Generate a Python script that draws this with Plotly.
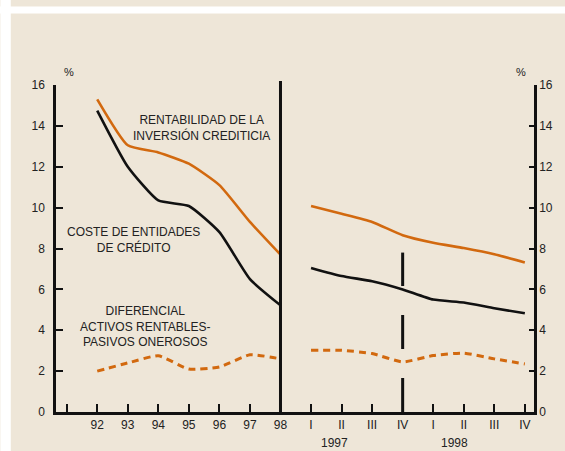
import plotly.graph_objects as go

# ---- data ----
annual_labels = ["92", "93", "94", "95", "96", "97", "98"]
quarter_labels = ["I", "II", "III", "IV", "I", "II", "III", "IV"]

rent_annual = [15.3, 13.05, 12.7, 12.15, 11.1, 9.3, 7.7]
coste_annual = [14.75, 12.0, 10.35, 10.08, 8.8, 6.5, 5.22]
dif_annual = [2.0, 2.4, 2.75, 2.1, 2.2, 2.8, 2.6]

rent_q = [10.08, 9.7, 9.3, 8.65, 8.28, 8.02, 7.72, 7.32]
coste_q = [7.05, 6.65, 6.4, 6.0, 5.5, 5.36, 5.08, 4.83]
dif_q = [3.02, 3.02, 2.86, 2.45, 2.76, 2.88, 2.6, 2.35]

# positions on a single linear axis: 91 -> 0 (unlabelled tick), 92..98 -> 1..7, quarters -> 8..15
x_annual = list(range(1, 8))
x_q = list(range(8, 16))
tick_vals = list(range(0, 16))
tick_text = [""] + annual_labels + quarter_labels

ORANGE = "#D2690F"
BLACK = "#111111"
BG = "#EEE6D8"
FONT = "Liberation Sans, Arial, sans-serif"

fig = go.Figure()

for xs, ys in ((x_annual, rent_annual), (x_q, rent_q)):
    fig.add_trace(go.Scatter(x=xs, y=ys, mode="lines",
                             line=dict(color=ORANGE, width=2.6, shape="spline", smoothing=0.5),
                             hoverinfo="skip", showlegend=False))
for xs, ys in ((x_annual, coste_annual), (x_q, coste_q)):
    fig.add_trace(go.Scatter(x=xs, y=ys, mode="lines",
                             line=dict(color=BLACK, width=2.6, shape="spline", smoothing=0.5),
                             hoverinfo="skip", showlegend=False))
for xs, ys in ((x_annual, dif_annual), (x_q, dif_q)):
    fig.add_trace(go.Scatter(x=xs, y=ys, mode="lines",
                             line=dict(color=ORANGE, width=3, dash="7px,5px", shape="spline", smoothing=0.5),
                             hoverinfo="skip", showlegend=False))

# invisible trace to anchor right axis
fig.add_trace(go.Scatter(x=[0], y=[0], yaxis="y2", mode="markers",
                         marker=dict(opacity=0), hoverinfo="skip", showlegend=False))

fig.update_layout(
    width=565, height=451,
    margin=dict(l=56, r=28, t=85, b=39),
    paper_bgcolor=BG, plot_bgcolor="rgba(0,0,0,0)",
    font=dict(family=FONT, size=12, color="#222222"),
    xaxis=dict(range=[-0.35, 15.3], tickvals=tick_vals, ticktext=tick_text,
               ticks="inside", ticklen=8, tickwidth=2, tickcolor=BLACK,
               showline=True, linecolor=BLACK, linewidth=2.5,
               showgrid=False, zeroline=False, fixedrange=True,
               tickfont=dict(size=12, color="#222222")),
    yaxis=dict(range=[0, 16], tickvals=list(range(0, 17, 2)),
               ticks="inside", ticklen=7, tickwidth=2, tickcolor=BLACK,
               showline=True, linecolor=BLACK, linewidth=2.5,
               showgrid=False, zeroline=False, fixedrange=True,
               ticklabelstandoff=6,
               tickfont=dict(size=12, color="#222222")),
    yaxis2=dict(range=[0, 16], tickvals=list(range(0, 17, 2)), overlaying="y", side="right",
                ticks="inside", ticklen=5, tickwidth=2, tickcolor=BLACK,
                showline=True, linecolor=BLACK, linewidth=2.5,
                showgrid=False, zeroline=False, fixedrange=True,
                tickfont=dict(size=12, color="#222222")),
)

# white strips of the page
fig.add_shape(type="rect", xref="paper", yref="paper", x0=-0.2, x1=1.2,
              y0=1 + (85 - 13.5) / 327, y1=1 + (85 - 6.5) / 327,
              fillcolor="white", line=dict(width=0), layer="below")
fig.add_shape(type="rect", xref="paper", yref="paper", x0=-56 / 481, x1=-45.5 / 481,
              y0=-0.2, y1=1.3, fillcolor="white", line=dict(width=0), layer="below")

# separator between annual and quarterly sections
fig.add_shape(type="line", xref="x", yref="paper", x0=7, x1=7, y0=0, y1=1 + 4 / 327,
              line=dict(color=BLACK, width=3))
# dashed divider at IV 1997
fig.add_shape(type="line", xref="x", yref="y", x0=11, x1=11, y0=0, y1=7.8,
              line=dict(color=BLACK, width=3, dash="34px,29px"))

ann = [
    dict(x=4.4, y=13.9, text="RENTABILIDAD DE LA<br>INVERSIÓN CREDITICIA"),
    dict(x=2.18, y=8.4, text="COSTE DE ENTIDADES<br>DE CRÉDITO"),
    dict(x=2.58, y=4.2, text="DIFERENCIAL<br>ACTIVOS RENTABLES-<br>PASIVOS ONEROSOS"),
]
for a in ann:
    fig.add_annotation(x=a["x"], y=a["y"], xref="x", yref="y", text=a["text"],
                       showarrow=False, align="center", yanchor="middle",
                       font=dict(family=FONT, size=12, color="#222222"))

# % labels
fig.add_annotation(x=5.7 / 481, y=1 + 21 / 327, xref="paper", yref="paper", text="%",
                   showarrow=False, font=dict(family=FONT, size=11, color="#222222"))
fig.add_annotation(x=474.7 / 481, y=1 + 21 / 327, xref="paper", yref="paper", text="%",
                   showarrow=False, font=dict(family=FONT, size=11, color="#222222"))

# year labels
fig.add_annotation(x=8.78, y=-31 / 327, xref="x", yref="paper", text="1997",
                   showarrow=False, yanchor="middle", font=dict(family=FONT, size=12, color="#222222"))
fig.add_annotation(x=12.69, y=-31 / 327, xref="x", yref="paper", text="1998",
                   showarrow=False, yanchor="middle", font=dict(family=FONT, size=12, color="#222222"))

fig.write_html("out.html", config={"displayModeBar": False},
               post_script="document.body.style.margin='0';document.body.style.overflow='hidden';")
